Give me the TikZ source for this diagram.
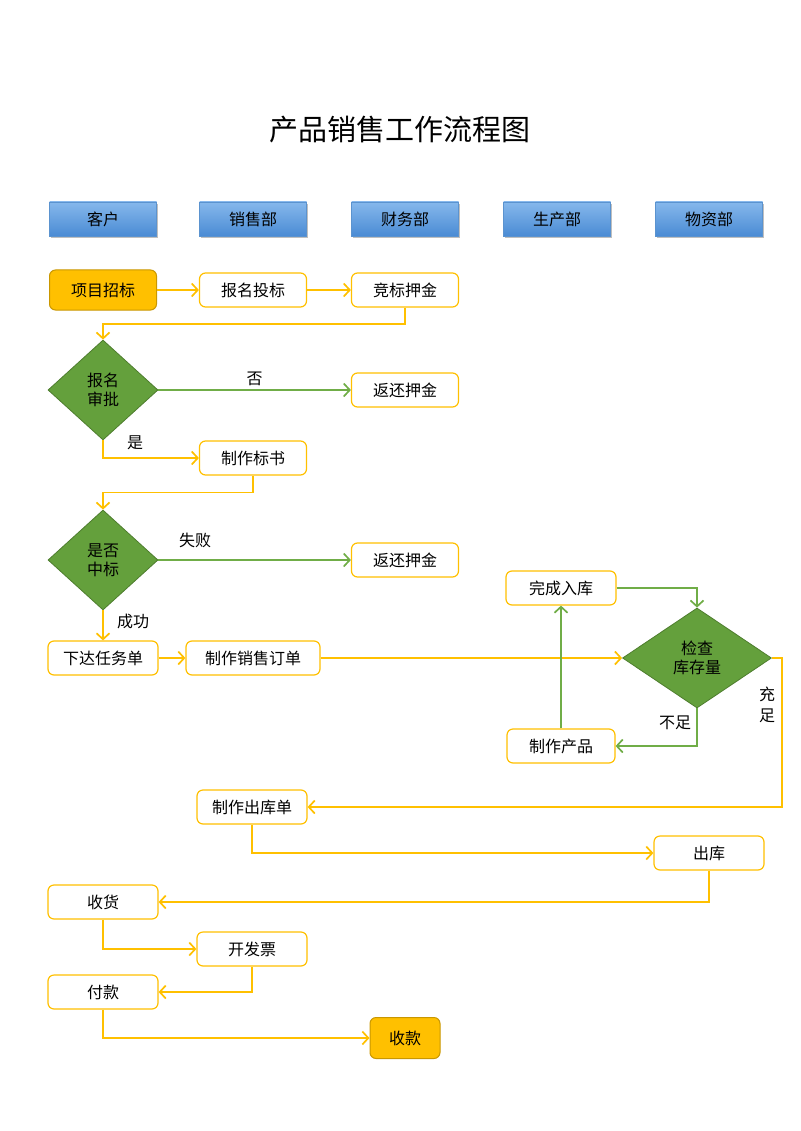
\documentclass[tikz,border=0pt]{standalone}
\usepackage{fontspec}
\setmainfont{Noto Sans CJK SC}
\usetikzlibrary{shapes.geometric,arrows.meta,shadows}
\definecolor{lineyellow}{HTML}{FFC000}
\definecolor{linegreen}{HTML}{70AD47}
\definecolor{dgreen}{HTML}{64A03C}
\definecolor{dgreenline}{HTML}{4E7D2E}
\definecolor{fillorange}{HTML}{FFC000}
\definecolor{orangeline}{HTML}{C99700}
\definecolor{headtop}{HTML}{86B8EC}
\definecolor{headbot}{HTML}{4A8BD4}
\definecolor{headline}{HTML}{5B93CF}
\begin{document}
\begin{tikzpicture}[x=1pt,y=-1pt,font=\fontsize{16}{19}\selectfont]
        \tikzstyle{head}=[rectangle,draw=headline,top color=headtop,bottom color=headbot,minimum width=107pt,minimum height=34pt,drop shadow={opacity=0.5,shadow xshift=1.5pt,shadow yshift=-2.5pt}]
        \tikzstyle{task}=[rectangle,rounded corners=6pt,draw=lineyellow,line width=1.2pt,fill=white,minimum width=107pt,minimum height=34pt,inner sep=2pt]
        \tikzstyle{term}=[rectangle,rounded corners=6pt,draw=orangeline,line width=1pt,fill=fillorange,minimum height=40pt,inner sep=2pt]
        \tikzstyle{decide}=[diamond,draw=dgreenline,line width=0.8pt,fill=dgreen,minimum width=110pt,minimum height=100pt,inner sep=0pt,align=center]
        \tikzstyle{flow}=[draw=lineyellow,line width=1.7pt,-{Straight Barb[length=6pt,width=13pt]}]
        \tikzstyle{gflow}=[draw=linegreen,line width=1.7pt,-{Straight Barb[length=6pt,width=13pt]}]
        \useasboundingbox (0,0) rectangle (800,1131);

        \node (title) at (400,130) {\fontsize{29}{34}\selectfont 产品销售工作流程图};

        % departments
        \node [head] (kehu) at (103,219) {客户};
        \node [head] (xiaoshou) at (253,219) {销售部};
        \node [head] (caiwu) at (405,219) {财务部};
        \node [head] (shengchan) at (557,219) {生产部};
        \node [head] (wuzi) at (709,219) {物资部};

        % bidding
        \node [term,minimum width=107pt] (zhaobiao) at (103,290) {项目招标};
        \node [task] (toubiao) at (253,290) {报名投标};
        \node [task] (yajin) at (405,290) {竞标押金};
        \node [decide] (shenpi) at (103,390) {报名\\审批};
        \node [task] (fanhuan1) at (405,390) {返还押金};
        \node [task] (biaoshu) at (253,458) {制作标书};
        \node [decide] (zhongbiao) at (103,560) {是否\\中标};
        \node [task] (fanhuan2) at (405,560) {返还押金};

        % order
        \node [task,minimum width=110pt] (renwu) at (103,658) {下达任务单};
        \node [task,minimum width=134pt] (dingdan) at (253,658) {制作销售订单};
        \node [decide,minimum width=149pt] (kucun) at (697,658) {检查\\库存量};
        \node [task,minimum width=110pt] (ruku) at (561,588) {完成入库};
        \node [task,minimum width=108pt] (chanpin) at (561,746) {制作产品};

        % delivery
        \node [task,minimum width=110pt] (chukudan) at (252,807) {制作出库单};
        \node [task,minimum width=110pt] (chuku) at (709,853) {出库};
        \node [task,minimum width=110pt] (shouhuo) at (103,902) {收货};
        \node [task,minimum width=110pt] (fapiao) at (252,949) {开发票};
        \node [task,minimum width=110pt] (fukuan) at (103,992) {付款};
        \node [term,minimum width=70pt,minimum height=41pt] (shoukuan) at (405,1038) {收款};

        \path[flow] (zhaobiao) -- (toubiao);
        \path[flow] (toubiao) -- (yajin);
        \path[flow] (yajin.south) -- ++(0,16.5) -| (shenpi.north);
        \path[gflow] (shenpi.east) -- node[above,pos=0.5] {否} (fanhuan1.west);
        \path[flow] (shenpi.south) |- (biaoshu.west);
        \node (shi) at (135,443) {是};
        \path[flow] (biaoshu.south) -- ++(0,17) -| (zhongbiao.north);
        \path[gflow] (zhongbiao.east) -- (fanhuan2.west);
        \node (shibai) at (195,540) {失败};
        \path[flow] (zhongbiao.south) -- (renwu.north);
        \node (chenggong) at (133,621) {成功};
        \path[flow] (renwu) -- (dingdan);
        \path[flow] (dingdan) -- (kucun.west);
        \path[gflow] (ruku.east) -| (kucun.north);
        \path[gflow] (kucun.south) |- (chanpin.east);
        \node (buzu) at (675,723) {不足};
        \path[gflow] (chanpin.north) -- (ruku.south);
        \path[flow] (kucun.east) -- ++(10,0) |- (chukudan.east);
        \node [align=center,font=\fontsize{16}{21}\selectfont] (chongzu) at (767,705) {充\\足};
        \path[flow] (chukudan.south) |- (chuku.west);
        \path[flow] (chuku.south) |- (shouhuo.east);
        \path[flow] (shouhuo.south) |- (fapiao.west);
        \path[flow] (fapiao.south) |- (fukuan.east);
        \path[flow] (fukuan.south) |- (shoukuan.west);
\end{tikzpicture}
\end{document}
